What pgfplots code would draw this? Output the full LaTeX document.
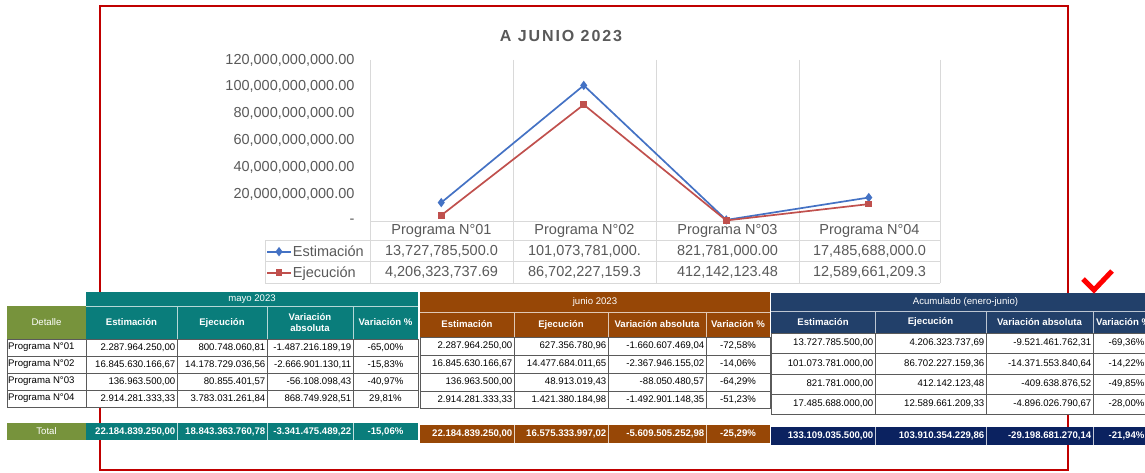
\documentclass[border=0pt]{standalone}
\usepackage{fontspec}
\setmainfont{Liberation Sans}
\usepackage{pgfplots}
\pgfplotsset{compat=1.18}

\definecolor{estc}{HTML}{4472C4}
\definecolor{ejec}{HTML}{C0504D}
\definecolor{gridc}{HTML}{D9D9D9}
\definecolor{txtc}{HTML}{595959}
\definecolor{redb}{HTML}{C00000}
\definecolor{tealc}{HTML}{0A7D7B}
\definecolor{olivec}{HTML}{77933C}
\definecolor{brownc}{HTML}{974706}
\definecolor{navyh}{HTML}{22406A}
\definecolor{navyt}{HTML}{0B2260}
\definecolor{cellb}{HTML}{5A5A5A}

\newcommand\chfont{\fontsize{14.5}{17}\selectfont}
\newcommand\titlefont{\fontsize{16}{19}\selectfont\bfseries\addfontfeatures{LetterSpace=12}}
\newcommand\tabfont{\fontsize{9.6}{11}\selectfont}
\newcommand\hdfont{\fontsize{9.6}{11}\selectfont\bfseries}

\tikzset{
  rn/.style={anchor=east,inner sep=0pt,font=\tabfont,text=black},
  cn/.style={anchor=center,inner sep=0pt,font=\tabfont,text=black},
  hd/.style={anchor=center,inner sep=0pt,font=\hdfont,text=white,align=center},
  band/.style={anchor=center,inner sep=0pt,font=\fontsize{9.6}{11}\selectfont,text=white},
}

% data row of a table; columns in \ca..\ce
\newcommand\trow[6]{%
  \fill[white] (\ca,#1) rectangle (\ce,#2);
  \draw[cellb,line width=0.9pt] (\ca,#1) rectangle (\ce,#2);
  \foreach \xx in {\cb,\cc,\cd} \draw[cellb,line width=0.9pt] (\xx,#1) -- (\xx,#2);
  \node[rn] at (\cb-1.5,{(#1+#2)/2}) {#3};
  \node[rn] at (\cc-1.5,{(#1+#2)/2}) {#4};
  \node[rn] at (\cd-1.5,{(#1+#2)/2}) {#5};
  \node[cn] at ({(\cd+\ce)/2},{(#1+#2)/2}) {#6};
}
% total row
\newcommand\ttrow[7]{%
  \fill[#3] (\ca,#1) rectangle (\ce,#2);
  \foreach \xx in {\cb,\cc,\cd} \draw[white!75!#3,line width=0.9pt] (\xx,#1) -- (\xx,#2);
  \node[rn,text=white,font=\tabfont\bfseries] at (\cb-1.5,{(#1+#2)/2}) {#4};
  \node[rn,text=white,font=\tabfont\bfseries] at (\cc-1.5,{(#1+#2)/2}) {#5};
  \node[rn,text=white,font=\tabfont\bfseries] at (\cd-1.5,{(#1+#2)/2}) {#6};
  \node[cn,text=white,font=\tabfont\bfseries] at ({(\cd+\ce)/2},{(#1+#2)/2}) {#7};
}
% header: band top, band bottom, header bottom, fill, band text
\newcommand\thead[5]{%
  \fill[#4] (\ca,#1) rectangle (\ce,#3);
  \draw[white!70!#4,line width=0.9pt] (\ca,#2) -- (\ce,#2);
  \foreach \xx in {\cb,\cc,\cd} \draw[white!70!#4,line width=0.9pt] (\xx,#2) -- (\xx,#3);
  \node[band] at ({(\ca+\ce)/2},{(#1+#2)/2}) {#5};
}

\begin{document}
\begin{tikzpicture}
\useasboundingbox (0,0) rectangle (1145pt,472pt);
\clip (0,0) rectangle (1145pt,472pt);

\begin{scope}[x=1pt,y=-1pt,yshift=472pt]
  \draw[redb,line width=2.8pt] (100,6) rectangle (1068,470);
  % chart grid and data table lines
  \foreach \xx in {370,513,656,799,940} \draw[gridc,line width=0.8pt] (\xx,60) -- (\xx,283);
  \draw[gridc,line width=0.8pt] (370,221) -- (940,221);
  \foreach \yy in {240,261,283} \draw[gridc,line width=0.8pt] (265,\yy) -- (940,\yy);
  \draw[gridc,line width=0.8pt] (265,240) -- (265,283);
  \node[font=\titlefont,text=txtc] at (561,36) {A JUNIO 2023};
  \foreach \xx/\lab in {441.5/01,584.5/02,727.5/03,869.5/04}
    \node[font=\chfont,text=txtc,inner sep=0pt] at (\xx,230.5) {Programa N°\lab};
  \node[font=\chfont,text=txtc,inner sep=0pt] at (441.5,251) {13,727,785,500.0};
  \node[font=\chfont,text=txtc,inner sep=0pt] at (584.5,251) {101,073,781,000.};
  \node[font=\chfont,text=txtc,inner sep=0pt] at (727.5,251) {821,781,000.00};
  \node[font=\chfont,text=txtc,inner sep=0pt] at (869.5,251) {17,485,688,000.0};
  \node[font=\chfont,text=txtc,inner sep=0pt] at (441.5,272) {4,206,323,737.69};
  \node[font=\chfont,text=txtc,inner sep=0pt] at (584.5,272) {86,702,227,159.3};
  \node[font=\chfont,text=txtc,inner sep=0pt] at (727.5,272) {412,142,123.48};
  \node[font=\chfont,text=txtc,inner sep=0pt] at (869.5,272) {12,589,661,209.3};
\end{scope}

\begin{axis}[
  at={(370pt,251pt)}, anchor=south west,
  scale only axis, width=570pt, height=161pt,
  xmin=0.5, xmax=4.5, ymin=0, ymax=1.2e11,
  axis line style={draw=none},
  xtick=\empty,
  ytick={0,2e10,4e10,6e10,8e10,1e11,1.2e11},
  scaled y ticks=false,
  yticklabels={{-\hspace{9pt}},{20,000,000,000.00},{40,000,000,000.00},{60,000,000,000.00},{80,000,000,000.00},{100,000,000,000.00},{120,000,000,000.00}},
  major tick length=0pt,
  yticklabel style={font=\chfont, text=txtc, xshift=-12pt},
  clip=false,
  legend style={at={(-0.1825,-0.124)}, anchor=north west, draw=none, fill=none,
    inner sep=0pt, row sep=0pt,
    nodes={inner sep=1pt, text height=14pt, text depth=5pt, font=\chfont, text=txtc}},
  legend cell align=left,
  legend image code/.code={\draw[mark repeat=2,mark phase=2,#1] plot coordinates {(0pt,0pt) (12pt,0pt) (24pt,0pt)};},
]
\addplot[estc, line width=1.7pt, mark=diamond*, mark size=3.3pt]
  coordinates {(1,13727785500) (2,101073781000) (3,821781000) (4,17485688000)};
\addlegendentry{Estimación}
\addplot[ejec, line width=1.7pt, mark=square*, mark size=2.5pt]
  coordinates {(1,4206323737.69) (2,86702227159.36) (3,412142123.48) (4,12589661209.33)};
\addlegendentry{Ejecución}
\end{axis}

\begin{scope}[x=1pt,y=-1pt,yshift=472pt]
  % ---- mayo 2023
  \def\ca{86}\def\cb{177}\def\cc{267}\def\cd{353}\def\ce{418}
  \thead{292}{306}{339}{tealc}{mayo 2023}
  \node[hd] at (131.5,322.5) {Estimación};
  \node[hd] at (222,322.5) {Ejecución};
  \node[hd] at (310,322.5) {Variación\\absoluta};
  \node[hd] at (385.5,322.5) {Variación \%};
  \fill[olivec] (7,306) rectangle (86,339);
  \node[hd,font=\fontsize{9.6}{11}\selectfont] at (46.5,322.5) {Detalle};
  \foreach \yy/\lab in {339/01,356/02,373/03,390/04}{
    \fill[white] (7,\yy) rectangle (86,\yy+17);
    \draw[cellb,line width=0.9pt] (7,\yy) rectangle (86,\yy+17);
    \node[anchor=west,inner sep=0pt,font=\tabfont] at (8,\yy+8.5) {Programa N°\lab};
  }
  \trow{339}{356}{2.287.964.250,00}{800.748.060,81}{-1.487.216.189,19}{-65,00\%}
  \trow{356}{373}{16.845.630.166,67}{14.178.729.036,56}{-2.666.901.130,11}{-15,83\%}
  \trow{373}{390}{136.963.500,00}{80.855.401,57}{-56.108.098,43}{-40,97\%}
  \trow{390}{407}{2.914.281.333,33}{3.783.031.261,84}{868.749.928,51}{29,81\%}
  \fill[olivec] (7,423) rectangle (86,440);
  \node[hd,font=\fontsize{9.6}{11}\selectfont] at (46.5,431.5) {Total};
  \ttrow{423}{440}{tealc}{22.184.839.250,00}{18.843.363.760,78}{-3.341.475.489,22}{-15,06\%}

  % ---- junio 2023
  \def\ca{420}\def\cb{514}\def\cc{608}\def\cd{706}\def\ce{770}
  \thead{292}{312}{337}{brownc}{junio 2023}
  \node[hd] at (467,324.5) {Estimación};
  \node[hd] at (561,324.5) {Ejecución};
  \node[hd] at (657,324.5) {Variación absoluta};
  \node[hd] at (738,324.5) {Variación \%};
  \trow{337}{355}{2.287.964.250,00}{627.356.780,96}{-1.660.607.469,04}{-72,58\%}
  \trow{355}{373}{16.845.630.166,67}{14.477.684.011,65}{-2.367.946.155,02}{-14,06\%}
  \trow{373}{391}{136.963.500,00}{48.913.019,43}{-88.050.480,57}{-64,29\%}
  \trow{391}{408}{2.914.281.333,33}{1.421.380.184,98}{-1.492.901.148,35}{-51,23\%}
  \ttrow{425}{443}{brownc}{22.184.839.250,00}{16.575.333.997,02}{-5.609.505.252,98}{-25,29\%}

  % ---- acumulado
  \def\ca{771}\def\cb{875}\def\cc{986}\def\cd{1093}\def\ce{1160}
  \thead{293}{311}{333}{navyh}{Acumulado (enero-junio)}
  \node[hd] at (823,322) {Estimación};
  \node[hd] at (930.5,322) {Ejecución};
  \node[hd] at (1039.5,322) {Variación absoluta};
  \node[hd,anchor=west] at (1096,322) {Variación \%};
  \trow{333}{353}{13.727.785.500,00}{4.206.323.737,69}{-9.521.461.762,31}{-69,36\%}
  \trow{353}{374}{101.073.781.000,00}{86.702.227.159,36}{-14.371.553.840,64}{-14,22\%}
  \trow{374}{394}{821.781.000,00}{412.142.123,48}{-409.638.876,52}{-49,85\%}
  \trow{394}{414}{17.485.688.000,00}{12.589.661.209,33}{-4.896.026.790,67}{-28,00\%}
  \ttrow{427}{445}{navyt}{133.109.035.500,00}{103.910.354.229,86}{-29.198.681.270,14}{-21,94\%}

  % check mark
  \draw[red,line width=5pt,line join=miter] (1083,279) -- (1094,290) -- (1112,271);
\end{scope}
\end{tikzpicture}
\end{document}
